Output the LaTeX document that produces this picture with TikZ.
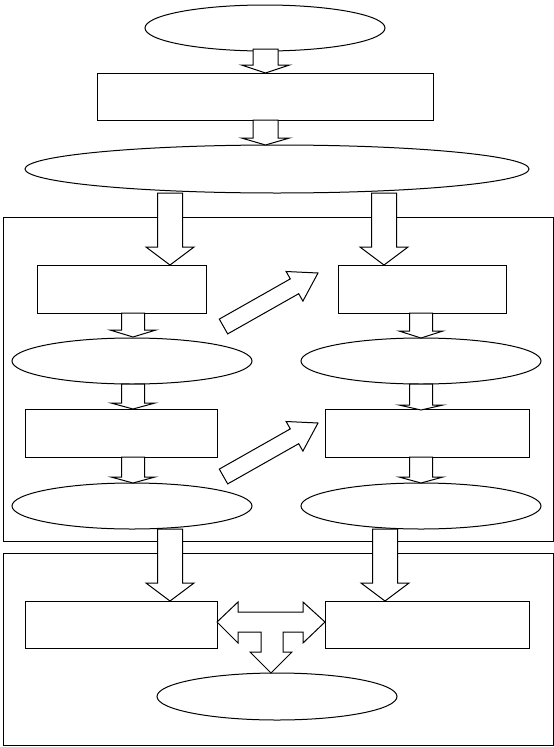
\documentclass[tikz,border=0pt]{standalone}
\usetikzlibrary{shapes.geometric}
\tikzset{
  base/.style={draw=black, line width=1pt, inner sep=0pt, outer sep=0pt},
  oval/.style={base, ellipse},
  box/.style={base, rectangle},
  frame/.style={draw=black, line width=1pt},
  blk/.style={draw=black, fill=white, line width=1pt, line join=miter}
}
\newcommand\blockdown[6]{%
  \draw[blk] (#1-#5,#2) -- (#1+#5,#2) -- (#1+#5,#3-#4) -- (#1+#6,#3-#4) -- (#1,#3)
    -- (#1-#6,#3-#4) -- (#1-#5,#3-#4) -- cycle;}
\newcommand\blockdiag[1]{%
  \draw[blk] (219.3,319.1+#1) -- (290.3,278.9+#1) -- (286.1,271.5+#1) -- (318,273+#1)
    -- (302.9,301.1+#1) -- (298.7,293.7+#1) -- (227.7,333.9+#1) -- cycle;}
\begin{document}
\begin{tikzpicture}[x=1pt,y=-1pt]
\useasboundingbox (0,0) rectangle (554,747);
% frames
\draw[frame] (3,217) rectangle (553,541);
\draw[frame] (3,553) rectangle (553,745);
% nodes
\node[oval, minimum width=240pt, minimum height=46pt] (e0) at (265,28) {};
\node[box, minimum width=336pt, minimum height=47pt] (r0) at (265,96.5) {};
\node[oval, minimum width=504pt, minimum height=48pt] (e1) at (277,169) {};
\node[box, minimum width=169pt, minimum height=48pt] (l1) at (121.5,289) {};
\node[box, minimum width=168pt, minimum height=48pt] (r1) at (422,289) {};
\node[oval, minimum width=240pt, minimum height=46pt] (le1) at (132,361) {};
\node[oval, minimum width=240pt, minimum height=46pt] (re1) at (421,361) {};
\node[box, minimum width=192pt, minimum height=48pt] (l2) at (121,433) {};
\node[box, minimum width=204pt, minimum height=48pt] (r2) at (427,433) {};
\node[oval, minimum width=240pt, minimum height=46pt] (le2) at (132,506) {};
\node[oval, minimum width=240pt, minimum height=46pt] (re2) at (421,506) {};
\node[box, minimum width=192pt, minimum height=47pt] (bl) at (121,624.5) {};
\node[box, minimum width=204pt, minimum height=47pt] (br) at (427,624.5) {};
\node[oval, minimum width=240pt, minimum height=47pt] (be) at (277,696.5) {};
% block arrows
\blockdown{265.5}{49}{73}{8}{12.5}{24}
\blockdown{265.5}{120}{145}{7}{12.5}{24}
\blockdown{170}{193}{265}{18}{12.5}{24}
\blockdown{384}{193}{265}{18}{12.5}{24}
\blockdown{133}{313}{337}{7}{11.5}{23}
\blockdown{421}{313}{338}{7}{11.5}{22}
\blockdown{133}{384}{409}{6}{11.5}{22}
\blockdown{421}{384}{410}{5}{11.5}{22}
\blockdown{133}{457}{483}{6}{11.5}{22}
\blockdown{421}{457}{483}{6}{11.5}{22}
\blockdown{170}{529}{601}{18}{12.5}{24}
\blockdown{385}{529}{601}{18}{12.5}{24}
\blockdiag{0}
\blockdiag{150}
% T-shaped arrow
\draw[blk] (217,622) -- (238,602) -- (238,612) -- (303,612) -- (303,602) -- (325,622)
  -- (303,643) -- (303,632) -- (283,632) -- (283,652) -- (292,652) -- (271,673)
  -- (250,652) -- (261,652) -- (261,632) -- (238,632) -- (238,643) -- cycle;
\end{tikzpicture}
\end{document}
